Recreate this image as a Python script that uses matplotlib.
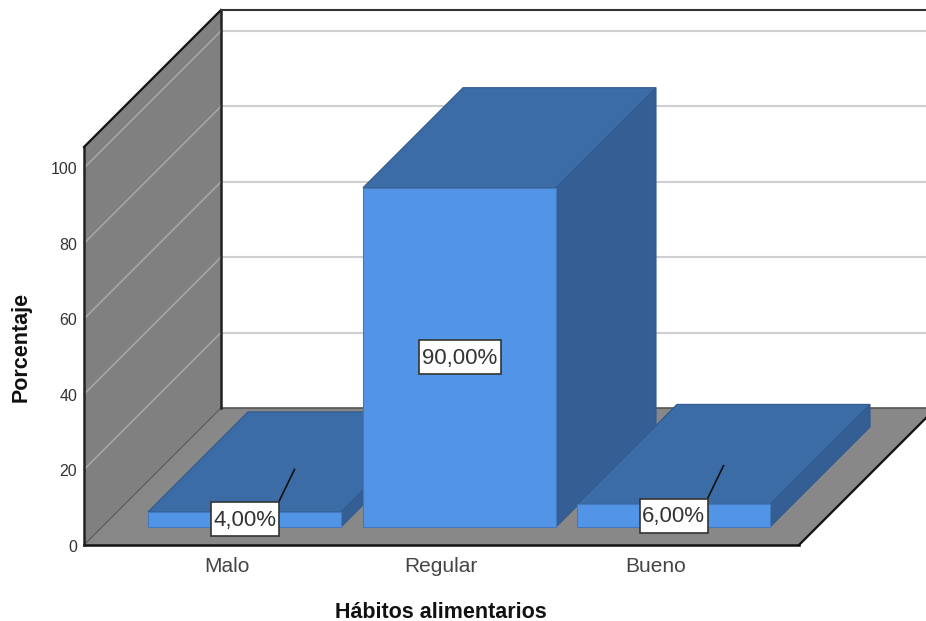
import matplotlib
matplotlib.use("Agg")
import matplotlib.pyplot as plt
from matplotlib.patches import Polygon, Rectangle

plt.rcParams['font.family'] = ['Liberation Sans', 'DejaVu Sans']

categorias = ["Malo", "Regular", "Bueno"]
porcentajes = [4, 90, 6]
etiquetas = ["4,00%", "90,00%", "6,00%"]
ticks_y = [0, 20, 40, 60, 80, 100]

# geometria de la caja 3D, en pixeles
W, H = 926, 621
X0, Y0 = 84, 545          # esquina frontal izquierda
PROF = 137                # profundidad de la caja
ESCALA = 3.77             # pixeles por punto porcentual
Y_TOPE = 147
X_DER = 799
BASE_BARRA = 527
ANCHO_BARRA = 193
PROF_BARRA = 100
CENTROS = [244.5, 459.5, 673.5]
CENTROS_TXT = [227, 441, 656]

C_FRENTE = "#5294e6"
C_TECHO = "#3c6ca5"
C_LADO = "#355f94"
C_PARED = "#808080"
C_PISO = "#888888"


def poly(ax, pts, color, edge="none", lw=0.8, z=1):
    ax.add_patch(Polygon(pts, closed=True, facecolor=color, edgecolor=edge, linewidth=lw, zorder=z))


def barra(ax, centro, valor, z):
    x1 = centro - ANCHO_BARRA / 2
    x2 = centro + ANCHO_BARRA / 2
    y1 = BASE_BARRA
    y2 = BASE_BARRA - valor * ESCALA
    d = PROF_BARRA
    borde = "#2f5a90"
    poly(ax, [(x2, y1), (x2 + d, y1 - d), (x2 + d, y2 - d), (x2, y2)], C_LADO, borde, z=z)
    poly(ax, [(x1, y2), (x2, y2), (x2 + d, y2 - d), (x1 + d, y2 - d)], C_TECHO, borde, z=z)
    poly(ax, [(x1, y1), (x2, y1), (x2, y2), (x1, y2)], C_FRENTE, "#4379bd", z=z)


fig = plt.figure(figsize=(W / 100, H / 100), dpi=100)
ax = fig.add_axes([0, 0, 1, 1])
ax.set_xlim(0, W)
ax.set_ylim(H, 0)
ax.axis("off")

# pared lateral y piso
poly(ax, [(X0, Y0), (X0 + PROF, Y0 - PROF), (X0 + PROF, Y_TOPE - PROF), (X0, Y_TOPE)], C_PARED)
poly(ax, [(X0, Y0), (X_DER, Y0), (X_DER + PROF, Y0 - PROF), (X0 + PROF, Y0 - PROF)], C_PISO)

# lineas de cuadricula en pared lateral y fondo
for t in ticks_y[1:]:
    y = Y0 - t * ESCALA
    ax.plot([X0, X0 + PROF], [y, y - PROF], color="#a6a6a6", lw=1.2, zorder=2)
    ax.plot([X0 + PROF, W], [y - PROF, y - PROF], color="#cfcfcf", lw=1.5, zorder=2)

# contornos de la caja
ax.plot([X0, X0 + PROF], [Y0, Y0 - PROF], color="#5f5f5f", lw=1.0, zorder=2)
ax.plot([X0 + PROF, W], [Y0 - PROF, Y0 - PROF], color="#555555", lw=1.2, zorder=2)
ax.plot([X_DER, X_DER + PROF], [Y0, Y0 - PROF], color="#111111", lw=1.6, zorder=2)
ax.plot([X0, X_DER], [Y0, Y0], color="#111111", lw=1.8, zorder=2)
ax.plot([X0, X0], [Y0, Y_TOPE], color="#222222", lw=1.8, zorder=2)
ax.plot([X0, X0 + PROF], [Y_TOPE, Y_TOPE - PROF], color="#111111", lw=1.6, zorder=2)
ax.plot([X0 + PROF, X0 + PROF], [Y0 - PROF, Y_TOPE - PROF], color="#222222", lw=1.8, zorder=2)
ax.plot([X0 + PROF, W], [Y_TOPE - PROF, Y_TOPE - PROF], color="#333333", lw=1.5, zorder=2)

# barras, de atras hacia delante
for i, (centro, valor) in enumerate(zip(CENTROS, porcentajes)):
    barra(ax, centro, valor, z=3 + i)

# etiquetas de valor con su linea guia
for centro, valor, etiqueta in zip(CENTROS, porcentajes, etiquetas):
    yc = BASE_BARRA - valor * ESCALA / 2
    ancho = 14 * len(etiqueta) - 2
    if valor < 10:
        ax.plot([centro + ancho / 2, centro + PROF_BARRA / 2], [yc - 17, yc - PROF_BARRA / 2],
                color="#111111", lw=1.2, zorder=7)
    ax.add_patch(Rectangle((centro - ancho / 2, yc - 17), ancho, 34, facecolor="white",
                           edgecolor="#333333", linewidth=1.2, zorder=8))
    ax.text(centro, yc + 1, etiqueta, ha="center", va="center", fontsize=16, color="#333333", zorder=9)

# textos de los ejes
for t in ticks_y:
    ax.text(77, Y0 - t * ESCALA + 2, str(t), ha="right", va="center", fontsize=11.5, color="#333333")
for xt, cat in zip(CENTROS_TXT, categorias):
    ax.text(xt, 567, cat, ha="center", va="center", fontsize=15, color="#444444")
ax.text(441, 612, "Hábitos alimentarios", ha="center", va="center", fontsize=15.5, fontweight="bold", color="#111111")
ax.text(21, 347, "Porcentaje", ha="center", va="center", rotation=90, fontsize=15.5, fontweight="bold", color="#111111")

fig.savefig("out.png", dpi=100)
